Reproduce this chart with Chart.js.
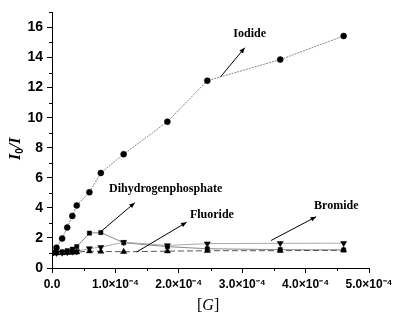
<!DOCTYPE html>
<html>
<head>
<meta charset="utf-8">
<script src="https://cdn.jsdelivr.net/npm/chart.js@4/dist/chart.umd.min.js"></script>
<style>
  html, body { margin: 0; padding: 0; background: #fff; }
  #wrap { width: 400px; height: 325px; }
</style>
</head>
<body>
<div id="wrap"><canvas id="chart" width="400" height="325"></canvas></div>
<script>
// Concentración del huésped [G] (M)
const conc = [0, 0.7e-5, 1.6e-5, 2.4e-5, 3.2e-5, 3.9e-5, 5.9e-5, 7.7e-5, 1.13e-4, 1.82e-4, 2.45e-4, 3.6e-4, 4.6e-4];
// I0/I para cada anión
const iodide   = [1.0, 1.35, 1.96, 2.69, 3.46, 4.16, 5.04, 6.32, 7.57, 9.73, 12.46, 13.86, 15.43];
const dihydrogenphosphate = [1.0, 1.02, 1.08, 1.15, 1.25, 1.42, 2.32, 2.36, 1.68, 1.42, 1.28, 1.22, 1.2];
const bromide  = [1.0, 1.0, 1.02, 1.04, 1.08, 1.1, 1.3, 1.38, 1.72, 1.5, 1.62, 1.64, 1.65];
const fluoride = [1.0, 1.0, 1.0, 1.02, 1.03, 1.05, 1.12, 1.1, 1.08, 1.12, 1.15, 1.15, 1.18];

// Etiquetas de los ejes
const xTicks = [0, 1e-4, 2e-4, 3e-4, 4e-4, 5e-4];
const xTickLabels = ['0.0', '1.0×10⁻⁴', '2.0×10⁻⁴', '3.0×10⁻⁴', '4.0×10⁻⁴', '5.0×10⁻⁴'];
const yTicks = [0, 2, 4, 6, 8, 10, 12, 14, 16];

// Anotaciones (texto y flecha) en coordenadas de datos
const notes = [
  { text: 'Iodide', tx: 2.86e-4, ty: 15.56, from: [2.66e-4, 12.72], to: [3.04e-4, 14.65] },
  { text: 'Dihydrogenphosphate', tx: 0.9e-4, ty: 5.26, from: [0.77e-4, 2.42], to: [1.306e-4, 4.34] },
  { text: 'Fluoride', tx: 2.175e-4, ty: 3.54, from: [1.333e-4, 1.06], to: [2.123e-4, 3.04] },
  { text: 'Bromide', tx: 4.134e-4, ty: 4.14, from: [3.455e-4, 1.83], to: [4.166e-4, 3.41] }
];

const pts = ys => conc.map((x, i) => ({ x: x, y: ys[i] }));

// Plugin: ticks menores, títulos de ejes y anotaciones
const extras = {
  id: 'extras',
  afterDraw(chart) {
    const c = chart.ctx, xs = chart.scales.x, ys = chart.scales.y;
    const ca = chart.chartArea;
    c.save();
    c.strokeStyle = '#000';
    c.lineWidth = 1;
    // ticks menores
    c.beginPath();
    for (let v = 1; v <= 17; v += 2) {
      const py = Math.round(ys.getPixelForValue(v)) + 0.5;
      c.moveTo(ca.left - 3, py); c.lineTo(ca.left, py);
    }
    for (let v = 0.5e-4; v < 5e-4; v += 1e-4) {
      const px = Math.round(xs.getPixelForValue(v)) + 0.5;
      c.moveTo(px, ca.bottom); c.lineTo(px, ca.bottom + 3);
    }
    c.stroke();

    // título eje Y: I0/I
    c.fillStyle = '#000';
    c.save();
    c.translate(16, 146);
    c.rotate(-Math.PI / 2);
    c.font = 'italic bold 16px "Liberation Serif"';
    c.textBaseline = 'middle';
    c.textAlign = 'left';
    let w = 0;
    c.fillText('I', -14, 0); w = c.measureText('I').width;
    c.font = 'bold 10px "Liberation Sans"';
    c.fillText('0', -14 + w, 4); w += c.measureText('0').width;
    c.font = 'italic bold 16px "Liberation Serif"';
    c.fillText('/I', -14 + w, 0);
    c.restore();

    // título eje X: [G]
    c.font = '16px "Liberation Serif"';
    c.textBaseline = 'middle';
    c.textAlign = 'left';
    const bx = 197, by = 306;
    c.fillText('[', bx, by);
    let bw = c.measureText('[').width;
    c.font = 'italic 16px "Liberation Serif"';
    c.fillText('G', bx + bw, by);
    bw += c.measureText('G').width;
    c.font = '16px "Liberation Serif"';
    c.fillText(']', bx + bw, by);

    // anotaciones
    c.font = 'bold 12px "Liberation Serif"';
    c.textBaseline = 'middle';
    c.textAlign = 'left';
    notes.forEach(n => {
      c.fillText(n.text, xs.getPixelForValue(n.tx), ys.getPixelForValue(n.ty));
      const x1 = xs.getPixelForValue(n.from[0]), y1 = ys.getPixelForValue(n.from[1]);
      const x2 = xs.getPixelForValue(n.to[0]), y2 = ys.getPixelForValue(n.to[1]);
      c.beginPath(); c.moveTo(x1, y1); c.lineTo(x2, y2); c.stroke();
      const a = Math.atan2(y2 - y1, x2 - x1);
      c.beginPath();
      c.moveTo(x2, y2);
      c.lineTo(x2 - 6 * Math.cos(a - 0.4), y2 - 6 * Math.sin(a - 0.4));
      c.lineTo(x2 - 6 * Math.cos(a + 0.4), y2 - 6 * Math.sin(a + 0.4));
      c.closePath(); c.fill();
    });
    c.restore();
  }
};

new Chart(document.getElementById('chart'), {
  type: 'line',
  data: {
    datasets: [
      { label: 'Fluoride', data: pts(fluoride), borderColor: '#555', borderWidth: 1, borderDash: [6, 3],
        pointStyle: 'triangle', pointRadius: 3.5, pointBorderWidth: 0.5, backgroundColor: '#000', pointBorderColor: '#000' },
      { label: 'Bromide', data: pts(bromide), borderColor: '#aaa', borderWidth: 1,
        pointStyle: 'triangle', pointRotation: 180, pointRadius: 3.5, pointBorderWidth: 0.5, backgroundColor: '#000', pointBorderColor: '#000' },
      { label: 'Dihydrogenphosphate', data: pts(dihydrogenphosphate), borderColor: '#888', borderWidth: 1,
        pointStyle: 'rect', pointRadius: 3, pointBorderWidth: 0.5, backgroundColor: '#000', pointBorderColor: '#000' },
      { label: 'Iodide', data: pts(iodide), borderColor: '#888', borderWidth: 1, borderDash: [2, 1],
        pointStyle: 'circle', pointRadius: 3, pointBorderWidth: 0.5, backgroundColor: '#000', pointBorderColor: '#000' }
    ]
  },
  options: {
    responsive: false,
    animation: false,
    layout: { padding: { top: 10, right: 31, left: 0, bottom: 0 } },
    plugins: { legend: { display: false }, tooltip: { enabled: false } },
    scales: {
      x: {
        type: 'linear', min: 0, max: 5e-4,
        afterBuildTicks: s => { s.ticks = xTicks.map(v => ({ value: v })); },
        afterFit: s => { s.height = 57; },
        border: { color: '#000', width: 1 },
        grid: { drawOnChartArea: false, tickLength: 5, color: '#000' },
        ticks: {
          color: '#000', padding: 4, maxRotation: 0, autoSkip: false,
          font: { family: 'Liberation Sans', size: 12, weight: 'bold' },
          callback: (v, i) => xTickLabels[i]
        }
      },
      y: {
        type: 'linear', min: 0, max: 17,
        afterBuildTicks: s => { s.ticks = yTicks.map(v => ({ value: v })); },
        afterFit: s => { s.width = 52; },
        border: { color: '#000', width: 1 },
        grid: { drawOnChartArea: false, tickLength: 5, color: '#000' },
        ticks: {
          color: '#000', padding: 4,
          font: { family: 'Liberation Sans', size: 14, weight: 'bold' }
        }
      }
    }
  },
  plugins: [extras]
});
</script>
</body>
</html>
